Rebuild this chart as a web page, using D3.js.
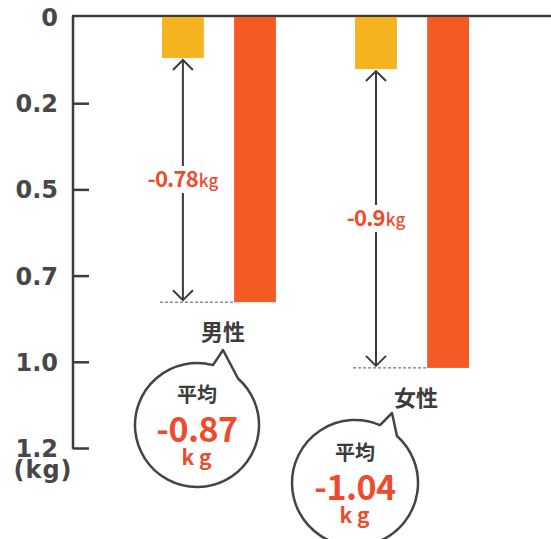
<!DOCTYPE html>
<html>
<head>
<meta charset="utf-8">
<script src="https://cdn.jsdelivr.net/npm/d3@7"></script>
<style>
body { margin: 0; background: #fff; }
svg { display: block; }
text { font-family: "Noto Sans CJK JP", "Noto Sans", sans-serif; }
</style>
</head>
<body>
<svg width="551" height="539"></svg>
<script>
const groups = ["男性", "女性"];
const series = ["before", "after"];
const beforeVals = [0.114, 0.145];
const afterVals = [0.794, 0.977];
const diffLabels = ["-0.78", "-0.9"];
const avgLabels = ["-0.87", "-1.04"];
const tickLabels = ["0", "0.2", "0.5", "0.7", "1.0", "1.2"];

const colors = { before: "#f5b320", after: "#f45a24" };
const red = "#ef4a2c";
const ink = "#3c3c3c";

const svg = d3.select("svg");
const axisX = 73, axisTop = 17, axisBottom = 448;

const y = d3.scaleLinear().domain([0, 1.2]).range([axisTop, axisBottom]);
const yTick = d3.scalePoint().domain(tickLabels).range([axisTop, axisBottom]);

const x0 = d3.scaleBand().domain(groups).range([162, 469]).paddingInner(0.41).paddingOuter(0);
const x1 = d3.scaleBand().domain(series).range([0, x0.bandwidth()]).paddingInner(0.42).paddingOuter(0);

// axis
const axis = svg.append("g").attr("transform", `translate(${axisX},0)`)
	.call(d3.axisRight(yTick).tickSize(16).tickFormat(""));
axis.select(".domain").remove();
axis.selectAll(".tick line").attr("stroke", ink).attr("stroke-width", 2.5);
axis.selectAll(".tick").filter(d => d == "0").remove();
svg.append("line").attr("x1", axisX).attr("x2", axisX).attr("y1", axisTop - 1).attr("y2", axisBottom + 1)
	.attr("stroke", ink).attr("stroke-width", 2.5);
svg.append("line").attr("x1", axisX - 1).attr("x2", 551).attr("y1", axisTop - 1).attr("y2", axisTop - 1)
	.attr("stroke", ink).attr("stroke-width", 2.5);

svg.selectAll(".tlabel").data(tickLabels).enter().append("text")
	.attr("x", 58).attr("y", d => yTick(d) + 9)
	.attr("text-anchor", "end").attr("font-size", 24).attr("font-weight", 700)
	.style("font-family", "'DejaVu Sans', sans-serif")
	.attr("fill", "#474747").text(d => d);
svg.append("text").attr("x", 43).attr("y", 478).attr("text-anchor", "middle")
	.attr("font-size", 24).attr("font-weight", 700).attr("letter-spacing", 1)
	.style("font-family", "'DejaVu Sans', sans-serif")
	.attr("fill", "#474747").text("(kg)");

// bars
const rows = groups.map((g, i) => ({ g: g, i: i, before: beforeVals[i], after: afterVals[i] }));
const gg = svg.selectAll(".grp").data(rows).enter().append("g")
	.attr("transform", d => `translate(${x0(d.g)},0)`);

gg.selectAll("rect").data(d => series.map(s => ({ s: s, v: d[s] }))).enter().append("rect")
	.attr("x", d => x1(d.s)).attr("y", y(0))
	.attr("width", x1.bandwidth()).attr("height", d => y(d.v) - y(0))
	.attr("fill", d => colors[d.s]);

// dashed guide
gg.append("line")
	.attr("x1", -2).attr("x2", x1("after"))
	.attr("y1", d => y(d.after)).attr("y2", d => y(d.after))
	.attr("stroke", "#555").attr("stroke-width", 1).attr("stroke-dasharray", "3,2");

// arrows
const ax = x1("before") + x1.bandwidth() / 2;
const labelY = [187, 226];
gg.each(function(d) {
	const el = d3.select(this);
	const yt = y(d.before) + 2, yb = y(d.after) - 2;
	const ly = labelY[d.i];
	el.append("line").attr("x1", ax).attr("x2", ax).attr("y1", yt).attr("y2", ly - 21)
		.attr("stroke", ink).attr("stroke-width", 2);
	el.append("line").attr("x1", ax).attr("x2", ax).attr("y1", ly + 6).attr("y2", yb)
		.attr("stroke", ink).attr("stroke-width", 2);
	el.append("path").attr("d", `M${ax - 10},${yt + 10}L${ax},${yt}L${ax + 10},${yt + 10}`)
		.attr("fill", "none").attr("stroke", ink).attr("stroke-width", 2);
	el.append("path").attr("d", `M${ax - 10},${yb - 10}L${ax},${yb}L${ax + 10},${yb - 10}`)
		.attr("fill", "none").attr("stroke", ink).attr("stroke-width", 2);
	const t = el.append("text").attr("x", ax).attr("y", ly).attr("text-anchor", "middle")
		.attr("fill", red).attr("font-weight", 700);
	t.append("tspan").attr("font-size", 22).attr("letter-spacing", -0.8).text(diffLabels[d.i]);
	t.append("tspan").attr("font-size", 17).attr("font-weight", 500).attr("dx", 1).text("kg");

	el.append("text").attr("x", x0.bandwidth() / 2 + 4).attr("y", y(d.after) + 38)
		.attr("text-anchor", "middle").attr("font-size", 22).attr("font-weight", 700)
		.attr("fill", ink).text(d.g);
});

// speech bubbles
const bubbles = [
	{ cx: 197, cy: 425, r: 62, tip: [223, 350], a: [213, 238] },
	{ cx: 355, cy: 483, r: 63, tip: [392, 413], a: [380, 397] }
];
bubbles.forEach((b, i) => {
	const pt = xx => [xx, b.cy - Math.sqrt(b.r * b.r - (xx - b.cx) * (xx - b.cx))];
	const p1 = pt(b.a[0]), p2 = pt(b.a[1]);
	const path = `M${p2[0]},${p2[1]} A${b.r},${b.r} 0 1 1 ${p1[0]},${p1[1]} L${b.tip[0]},${b.tip[1]} Z`;
	svg.append("path").attr("d", path).attr("fill", "#fff")
		.attr("stroke", "#444").attr("stroke-width", 2.5).attr("stroke-linejoin", "round");
	svg.append("text").attr("x", b.cx).attr("y", b.cy - 23).attr("text-anchor", "middle")
		.attr("font-size", 20).attr("font-weight", 700).attr("fill", ink).text("平均");
	svg.append("text").attr("x", b.cx).attr("y", b.cy + 17).attr("text-anchor", "middle")
		.attr("font-size", 34).attr("font-weight", 700).attr("letter-spacing", -0.5)
		.attr("fill", red).text(avgLabels[i]);
	svg.append("text").attr("x", b.cx + 2).attr("y", b.cy + 40).attr("text-anchor", "middle")
		.attr("font-size", 21).attr("font-weight", 700).attr("letter-spacing", 5)
		.attr("fill", red).text("kg");
});
</script>
</body>
</html>
